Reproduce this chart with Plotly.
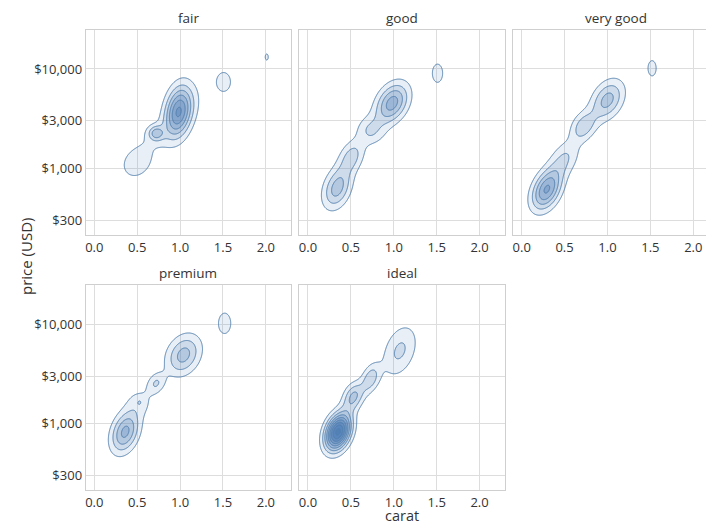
import numpy as np
import plotly.graph_objects as go

# Facet order
cuts = ["fair", "good", "very good", "premium", "ideal"]

# Density bumps per cut, one tuple per bump:
# (carat, price in USD, sd in carat, sd in log10 price, correlation, peak height)
fair_blobs = [
    (0.98, 3700, 0.110, 0.179, 0.25, 5.7),
    (1.08, 4000, 0.170, 0.200, 0.50, 0.6),
    (0.72, 2250, 0.060, 0.050, 0.00, 2.6),
    (0.70, 2150, 0.130, 0.110, 0.00, 0.8),
    (0.50, 1150, 0.155, 0.139, 0.22, 1.6),
    (1.51, 7400, 0.105, 0.126, 0.00, 1.3),
    (2.01, 13200, 0.040, 0.069, 0.00, 1.1),
]
good_blobs = [
    (0.34, 630, 0.116, 0.145, 0.32, 3.5),
    (0.51, 1310, 0.103, 0.115, 0.30, 2.4),
    (0.73, 2390, 0.117, 0.101, 0.00, 1.9),
    (0.73, 2390, 0.025, 0.025, 0.00, 0.3),
    (0.98, 4520, 0.134, 0.140, 0.34, 4.5),
    (1.51, 9060, 0.082, 0.126, 0.00, 1.3),
]
very_good_blobs = [
    (0.29, 605, 0.121, 0.142, 0.38, 5.1),
    (0.50, 1250, 0.123, 0.130, 0.37, 2.0),
    (0.72, 2625, 0.103, 0.104, 0.27, 2.6),
    (1.00, 4870, 0.134, 0.140, 0.34, 3.4),
    (1.52, 10170, 0.065, 0.105, 0.00, 1.3),
]
premium_blobs = [
    (0.36, 822, 0.115, 0.146, 0.32, 4.3),
    (0.53, 1650, 0.117, 0.101, 0.00, 1.2),
    (0.53, 1650, 0.030, 0.030, 0.00, 0.5),
    (0.72, 2535, 0.075, 0.075, 0.22, 2.0),
    (1.04, 4900, 0.141, 0.142, 0.26, 3.4),
    (1.52, 10240, 0.097, 0.140, 0.00, 1.3),
]
ideal_blobs = [
    (0.35, 822, 0.102, 0.126, 0.31, 9.3),
    (0.53, 1860, 0.085, 0.100, 0.29, 3.2),
    (0.73, 2840, 0.075, 0.100, 0.34, 2.6),
    (1.07, 5400, 0.143, 0.184, 0.35, 2.2),
]
blobs_by_cut = [fair_blobs, good_blobs, very_good_blobs, premium_blobs, ideal_blobs]

# Axis ticks
carat_ticks = [0.0, 0.5, 1.0, 1.5, 2.0]
carat_tick_text = ["0.0", "0.5", "1.0", "1.5", "2.0"]
price_ticks = [300, 1000, 3000, 10000]
price_tick_text = ["$300", "$1,000", "$3,000", "$10,000"]

# Contour levels of the density surface
level_start, level_end, level_step = 1, 11, 1

W, H = 706, 526
FONT = "Open Sans"
TEXT = "#333333"
GRID = "#dddddd"
FRAME = "#cfcfcf"
LINE = "#5280ae"
BASE = (70, 120, 180)

# panel geometry in pixels: (left, right) per column, (top, bottom) per row
col_px = [(85.7, 290.8), (299.4, 504.5), (513.1, 706.0)]
row_px = [(29.8, 235.1), (285.1, 490.4)]
panel_w = 205.1
carat_per_px = 1 / 85.8
x_lo = -0.1
log_range = [2.325, 4.395]

# evaluation grid (carat, log10 price)
gx = np.linspace(-0.15, 2.35, 501)
gy = np.linspace(2.25, 4.45, 441)
GX, GY = np.meshgrid(gx, gy)


def density(blobs):
    z = np.zeros_like(GX)
    for c, p, sx, sy, rho, h in blobs:
        dx = (GX - c) / sx
        dy = (GY - np.log10(p)) / sy
        q = (dx * dx - 2 * rho * dx * dy + dy * dy) / (1 - rho * rho)
        z += h * np.exp(-0.5 * q)
    return z


def band_alpha(k):
    return min(0.11 + 0.035 * (k - 1), 0.9)


# stepped fill: each band a little more blue than the one outside it
n_lv = level_end - level_start
scale = [[0.0, "rgba(%d,%d,%d,0)" % BASE]]
for k in range(1, n_lv + 1):
    scale.append([(k - 0.5) / n_lv, "rgba(%d,%d,%d,%.3f)" % (*BASE, band_alpha(k))])
scale.append([1.0, "rgba(%d,%d,%d,%.3f)" % (*BASE, band_alpha(n_lv + 1))])

fig = go.Figure()
layout = dict(
    width=W, height=H, margin=dict(l=0, r=0, t=0, b=0),
    paper_bgcolor="white", plot_bgcolor="white",
    showlegend=False, font=dict(family=FONT, size=13, color=TEXT),
)
annotations = []

for i, (cut, blobs) in enumerate(zip(cuts, blobs_by_cut)):
    r, c = divmod(i, 3)
    left, right = col_px[c]
    top, bottom = row_px[r]
    n = i + 1
    xa = "xaxis" if n == 1 else "xaxis%d" % n
    ya = "yaxis" if n == 1 else "yaxis%d" % n
    xr = "x" if n == 1 else "x%d" % n
    yr = "y" if n == 1 else "y%d" % n

    fig.add_trace(go.Contour(
        x=gx, y=10 ** gy, z=density(blobs),
        xaxis=xr, yaxis=yr,
        contours=dict(start=level_start, end=level_end, size=level_step,
                      coloring="fill", showlines=True),
        colorscale=scale, showscale=False,
        line=dict(color=LINE, width=1),
        hoverinfo="skip",
    ))

    x_hi = x_lo + (right - left) * carat_per_px
    layout[xa] = dict(
        domain=[left / W, right / W], range=[x_lo, x_hi], anchor=yr,
        tickvals=carat_ticks, ticktext=carat_tick_text, ticks="",
        showgrid=True, gridcolor=GRID, gridwidth=1, zeroline=False,
        showline=True, linecolor=FRAME, linewidth=1, mirror=True,
        automargin=False, tickfont=dict(size=13, color=TEXT),
    )
    layout[ya] = dict(
        domain=[1 - bottom / H, 1 - top / H], type="log", range=log_range,
        anchor=xr, tickvals=price_ticks, ticktext=price_tick_text, ticks="",
        showticklabels=(c == 0), showgrid=True, gridcolor=GRID, gridwidth=1,
        zeroline=False, showline=True, linecolor=FRAME, linewidth=1,
        mirror=(c != 2), automargin=False, tickfont=dict(size=13, color=TEXT),
    )
    annotations.append(dict(
        text=cut, x=(left + panel_w / 2) / W,
        y=1 - (top - 12) / H, xref="paper", yref="paper",
        xanchor="center", yanchor="middle", showarrow=False,
        font=dict(size=13.5, color=TEXT),
    ))

annotations.append(dict(
    text="carat", x=402 / W, y=0, xref="paper", yref="paper",
    xanchor="center", yanchor="bottom", showarrow=False,
    font=dict(size=14.5, color=TEXT), borderpad=0,
))
annotations.append(dict(
    text="price (USD)", x=26 / W, y=1 - 256 / H, xref="paper", yref="paper",
    xanchor="center", yanchor="middle", showarrow=False, textangle=-90,
    font=dict(size=15, color=TEXT),
))
layout["annotations"] = annotations
fig.update_layout(**layout)
fig.write_html("out.html")
